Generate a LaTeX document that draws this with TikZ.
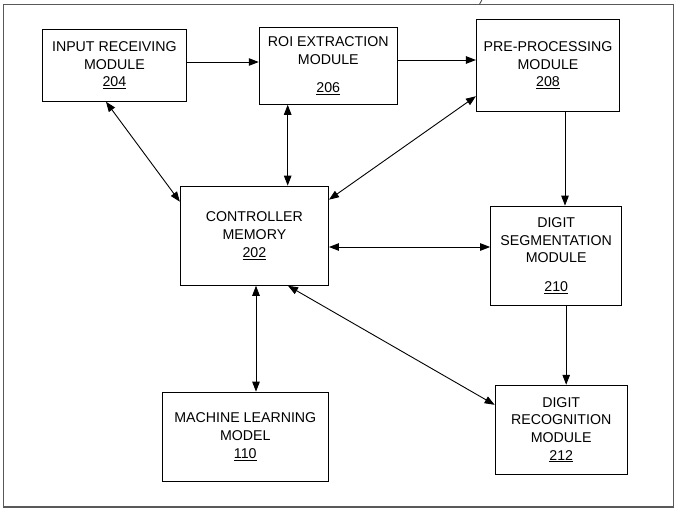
\documentclass[tikz,border=0pt]{standalone}
\usepackage{fontspec}
\setmainfont{Liberation Sans}
\usetikzlibrary{arrows.meta}
\newcommand{\diafont}{\fontsize{14.2pt}{17.6pt}\selectfont}
\tikzset{
  box/.style={draw=black, line width=1.1pt, rectangle, inner sep=0pt, align=center, font=\diafont},
  arr/.style={line width=0.9pt, -{Triangle[length=10pt,width=7.5pt]}},
  darr/.style={line width=0.9pt, {Triangle[length=10pt,width=7.5pt]}-{Triangle[length=10pt,width=7.5pt]}},
  frame/.style={draw=black!65, line width=1.4pt}
}
\begin{document}
\begin{tikzpicture}[x=1pt,y=-1pt]
\useasboundingbox (0,0) rectangle (677,512);
\draw[frame] (3.3,4.7) rectangle (673.3,507);
\coordinate (tickA) at (481.8,0);
\coordinate (tickB) at (479.3,4.7);
\draw[line width=0.9pt, black!70] (tickA) -- (tickB);

\node[box, minimum width=144pt, minimum height=72pt] (inp) at (114.4,65.2) {INPUT RECEIVING\\MODULE\\\underline{204}};
\node[box, minimum width=138pt, minimum height=77pt] (roi) at (328.3,65.7) {ROI EXTRACTION\\MODULE\\[11pt]\underline{206}};
\node[box, minimum width=143pt, minimum height=92pt] (pre) at (548,65.2) {PRE-PROCESSING\\MODULE\\\underline{208}};
\node[box, minimum width=148pt, minimum height=99pt] (ctl) at (254.4,235.7) {CONTROLLER\\MEMORY\\\underline{202}};
\node[box, minimum width=131pt, minimum height=99pt] (seg) at (556.2,255.7) {DIGIT\\SEGMENTATION\\MODULE\\[11pt]\underline{210}};
\node[box, minimum width=166pt, minimum height=89pt] (ml) at (245.3,436.7) {MACHINE LEARNING\\MODEL\\\underline{110}};
\node[box, minimum width=132pt, minimum height=89pt] (rec) at (561.2,429.8) {DIGIT\\RECOGNITION\\MODULE\\\underline{212}};

\draw[arr] ([yshift=3.2pt]inp.east) -- ([yshift=3.2pt]inp.east -| roi.west);
\draw[arr] ([yshift=5.7pt]roi.east) -- ([yshift=5.7pt]roi.east -| pre.west);
\draw[arr] ([xshift=17pt]pre.south) -- ([xshift=17pt]pre.south |- seg.north);
\draw[arr] ([xshift=10pt]seg.south) -- ([xshift=10pt]seg.south |- rec.north);
\draw[darr] ([yshift=-11.3pt]ctl.east) -- ([yshift=-11.3pt]ctl.east -| seg.west);
\draw[darr] ([xshift=-40.6pt]roi.south) -- ([xshift=-40.6pt]roi.south |- ctl.north);
\draw[darr] ([xshift=1.6pt]ctl.south) -- ([xshift=1.6pt]ctl.south |- ml.north);
\draw[darr] ([xshift=-8.4pt]inp.south) -- ([yshift=34pt]ctl.west);
\draw[darr] ([yshift=-31pt]pre.west) -- ([yshift=36pt]ctl.east);
\draw[darr] ([xshift=33.6pt]ctl.south) -- ([yshift=25pt]rec.west);
\end{tikzpicture}
\end{document}
